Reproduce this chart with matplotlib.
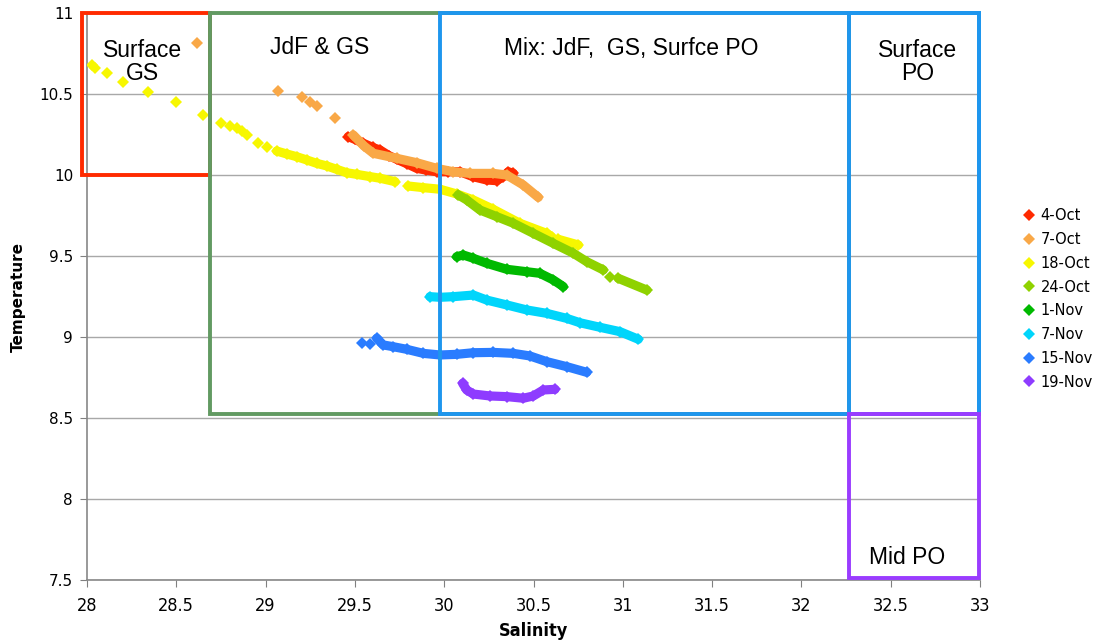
import matplotlib
matplotlib.use("Agg")
import matplotlib.pyplot as plt
from matplotlib.patches import Rectangle
from matplotlib.lines import Line2D

# ---------------- data ----------------
series_names = ["4-Oct", "7-Oct", "18-Oct", "24-Oct", "1-Nov", "7-Nov", "15-Nov", "19-Nov"]
series_colors = ["#ff2a00", "#f9a847", "#f7f700", "#8fd200", "#00b900", "#00d5fb", "#2a7cff", "#8e3cff"]

# 4-Oct
oct4_dots_x = []
oct4_dots_y = []
oct4_trace_x = [29.463, 29.50, 29.547, 29.60, 29.641, 29.69, 29.734, 29.79, 29.846, 29.90, 29.958, 30.02, 30.089, 30.16, 30.238, 30.294, 30.33, 30.359, 30.387]
oct4_trace_y = [10.237, 10.22, 10.196, 10.17, 10.154, 10.12, 10.097, 10.07, 10.041, 10.03, 10.020, 10.02, 10.020, 9.99, 9.969, 9.965, 9.99, 10.020, 10.010]

# 7-Oct
oct7_dots_x = [28.614, 29.071, 29.202, 29.249, 29.286, 29.389]
oct7_dots_y = [10.813, 10.520, 10.483, 10.453, 10.426, 10.350]
oct7_trace_x = [29.491, 29.55, 29.603, 29.734, 29.846, 29.958, 30.051, 30.144, 30.275, 30.350, 30.443, 30.527]
oct7_trace_y = [10.247, 10.18, 10.134, 10.103, 10.076, 10.041, 10.020, 10.010, 10.010, 10.000, 9.938, 9.862]

# 18-Oct
oct18_dots_x = [28.026, 28.045, 28.110, 28.200, 28.343, 28.497, 28.651, 28.750, 28.801, 28.838, 28.866, 28.894, 28.956, 29.010]
oct18_dots_y = [10.679, 10.659, 10.632, 10.576, 10.510, 10.453, 10.370, 10.323, 10.302, 10.288, 10.273, 10.247, 10.200, 10.171]
oct18_trace_x = [29.062, 29.118, 29.174, 29.230, 29.286, 29.342, 29.398, 29.454, 29.510, 29.585, 29.641, 29.725]
oct18_trace_y = [10.148, 10.130, 10.113, 10.093, 10.072, 10.056, 10.035, 10.014, 10.004, 9.990, 9.980, 9.959]
oct18_trace2_x = [29.799, 29.883, 29.977, 30.070, 30.163, 30.275, 30.424, 30.573, 30.601]
oct18_trace2_y = [9.932, 9.922, 9.912, 9.883, 9.846, 9.788, 9.702, 9.640, 9.619]
oct18_trace3_x = [30.639, 30.751]
oct18_trace3_y = [9.603, 9.568]

# 24-Oct
oct24_trace_x = [30.079, 30.126, 30.200, 30.294, 30.387, 30.499, 30.611, 30.723, 30.798, 30.891]
oct24_trace_y = [9.877, 9.846, 9.784, 9.743, 9.702, 9.640, 9.578, 9.517, 9.465, 9.414]
oct24_dots_x = [30.928]
oct24_dots_y = [9.372]
oct24_trace2_x = [30.975, 31.134]
oct24_trace2_y = [9.362, 9.290]

# 1-Nov
nov1_trace_x = [30.070, 30.107, 30.163, 30.238, 30.350, 30.462, 30.536, 30.611, 30.667]
nov1_trace_y = [9.496, 9.506, 9.486, 9.455, 9.418, 9.403, 9.393, 9.352, 9.311]

# 7-Nov
nov7_trace_x = [29.920, 29.977, 30.051, 30.163, 30.238, 30.350, 30.462, 30.574, 30.686, 30.760, 30.872, 30.984, 31.087]
nov7_trace_y = [9.249, 9.245, 9.249, 9.259, 9.228, 9.198, 9.167, 9.146, 9.115, 9.088, 9.060, 9.033, 8.986]

# 15-Nov
nov15_dots_x = [29.538, 29.585]
nov15_dots_y = [8.965, 8.957]
nov15_trace_x = [29.622, 29.659, 29.715, 29.790, 29.883, 29.977, 30.070, 30.163, 30.275, 30.387, 30.480, 30.574, 30.686, 30.798]
nov15_trace_y = [8.992, 8.951, 8.940, 8.924, 8.899, 8.889, 8.893, 8.903, 8.905, 8.899, 8.883, 8.848, 8.817, 8.782]

# 19-Nov
nov19_trace_x = [30.103, 30.126, 30.163, 30.256, 30.350, 30.443, 30.499, 30.555, 30.620]
nov19_trace_y = [8.714, 8.673, 8.648, 8.636, 8.632, 8.622, 8.636, 8.673, 8.677]

series_traces = [
    [(oct4_trace_x, oct4_trace_y)],
    [(oct7_trace_x, oct7_trace_y)],
    [(oct18_trace_x, oct18_trace_y), (oct18_trace2_x, oct18_trace2_y), (oct18_trace3_x, oct18_trace3_y)],
    [(oct24_trace_x, oct24_trace_y), (oct24_trace2_x, oct24_trace2_y)],
    [(nov1_trace_x, nov1_trace_y)],
    [(nov7_trace_x, nov7_trace_y)],
    [(nov15_trace_x, nov15_trace_y)],
    [(nov19_trace_x, nov19_trace_y)],
]
series_dots = [
    (oct4_dots_x, oct4_dots_y),
    (oct7_dots_x, oct7_dots_y),
    (oct18_dots_x, oct18_dots_y),
    (oct24_dots_x, oct24_dots_y),
    ([], []),
    ([], []),
    (nov15_dots_x, nov15_dots_y),
    ([], []),
]

# water-mass boxes: (label, x0, x1, y0, y1)
box_labels = ["Surface\nGS", "JdF & GS", "Mix: JdF,  GS, Surfce PO", "Surface\nPO", "Mid PO"]
box_x0 = [27.972, 28.689, 29.977, 32.267, 32.267]
box_x1 = [28.689, 32.267, 32.995, 32.995, 32.995]
box_y0 = [10.0, 8.525, 8.525, 8.525, 7.51]
box_y1 = [11.0, 11.0, 11.0, 11.0, 8.525]
box_colors = ["#ff2a00", "#629a62", "#1e96ee", "#1e96ee", "#9a3cff"]
label_x = [28.31, 29.30, 31.05, 32.65, 32.59]
label_y = [10.70, 10.79, 10.78, 10.70, 7.64]

x_ticks = [28, 28.5, 29, 29.5, 30, 30.5, 31, 31.5, 32, 32.5, 33]
y_ticks = [7.5, 8, 8.5, 9, 9.5, 10, 10.5, 11]

# ---------------- figure ----------------
fig = plt.figure(figsize=(11.07, 6.43), dpi=100)
ax = fig.add_axes([87 / 1107, 1 - 580 / 643, (980 - 87) / 1107, (580 - 13) / 643])

ax.set_xlim(28, 33)
ax.set_ylim(7.5, 11)
ax.set_xticks(x_ticks)
ax.set_yticks(y_ticks)
ax.set_xticklabels([f"{t:g}" for t in x_ticks], family="DejaVu Sans", fontstretch="condensed", fontsize=13)
ax.set_yticklabels([f"{t:g}" for t in y_ticks], family="DejaVu Sans", fontsize=11)
ax.tick_params(axis="x", length=5, color="#808080", pad=7)
ax.tick_params(axis="y", length=5, color="#808080", pad=5)
for s in ["top", "right"]:
    ax.spines[s].set_visible(False)
for s in ["left", "bottom"]:
    ax.spines[s].set_color("#888888")
    ax.spines[s].set_linewidth(1.2)
ax.yaxis.grid(True, color="#a8a8a8", linewidth=1.0)
ax.set_axisbelow(True)

ax.set_xlabel("Salinity", family="DejaVu Sans", fontstretch="condensed", fontweight="bold", fontsize=13, labelpad=5)
ax.set_ylabel("Temperature", family="DejaVu Sans", fontweight="bold", fontsize=11, labelpad=10)

for name, color, traces, dots in zip(series_names, series_colors, series_traces, series_dots):
    for tx, ty in traces:
        ax.plot(tx, ty, color=color, linewidth=6.6, solid_capstyle="round", solid_joinstyle="round",
                marker="D", markersize=6, markeredgewidth=0, zorder=3)
    if len(dots[0]):
        ax.plot(dots[0], dots[1], linestyle="none", color=color, marker="D", markersize=6.5,
                markeredgewidth=0, zorder=3)

for lab, x0, x1, y0, y1, c, lx, ly in zip(box_labels, box_x0, box_x1, box_y0, box_y1, box_colors, label_x, label_y):
    ax.add_patch(Rectangle((x0, y0), x1 - x0, y1 - y0, fill=False, edgecolor=c, linewidth=2.8,
                           clip_on=False, zorder=4))
    ax.text(lx, ly, lab, ha="center", va="center", fontsize=16.5, family="Liberation Sans",
            linespacing=1.0, zorder=5)

handles = [Line2D([], [], linestyle="none", marker="D", markersize=6, markeredgewidth=0, color=c)
           for c in series_colors]
fig.legend(handles, series_names, loc="upper left", bbox_to_anchor=(1016 / 1107, 1 - 201 / 643),
           frameon=False, prop={"family": "DejaVu Sans", "size": 10.5}, handlelength=0.8,
           handletextpad=0.4, labelspacing=0.6, borderpad=0)

fig.savefig("out.png", dpi=100)
